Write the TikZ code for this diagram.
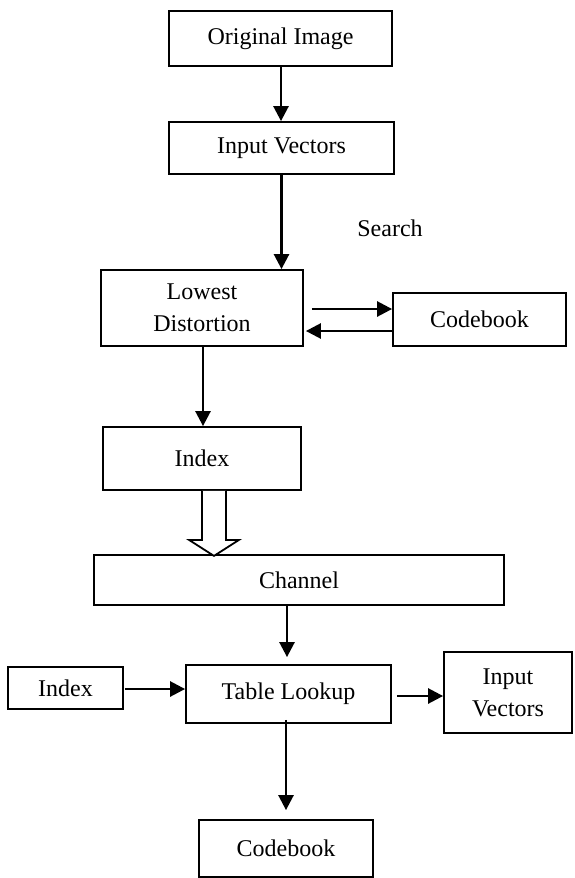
\documentclass[tikz,border=0pt]{standalone}
\usepackage{fontspec}
\setmainfont{Liberation Serif}
\usetikzlibrary{arrows.meta,calc}
\tikzset{
  box/.style={draw=black, line width=1.8pt, inner sep=0pt, align=center,
    font=\fontsize{24}{32}\selectfont},
  arr/.style={line width=2.6pt, -{Triangle[length=15pt,width=15pt]}},
  lbl/.style={inner sep=0pt, font=\fontsize{24}{32}\selectfont}
}
\begin{document}
\begin{tikzpicture}[x=1pt,y=-1pt]
\useasboundingbox (0,0) rectangle (574,878);
\node[box, minimum width=223pt, minimum height=55pt] (oi) at (280.5,38.5) {Original Image};
\node[box, minimum width=225pt, minimum height=52pt] (iv1) at (281.5,148) {Input Vectors};
\node[box, minimum width=202pt, minimum height=76pt] (ld) at (202,308) {Lowest\\Distortion};
\node[lbl] (search) at (390,228) {Search};
\node[box, minimum width=173pt, minimum height=53pt] (cb1) at (479.5,319.5) {Codebook};
\node[box, minimum width=198pt, minimum height=63pt] (ix1) at (202,458.5) {Index};
\node[box, minimum width=410pt, minimum height=50pt] (ch) at (299,580) {Channel};
\node[box, minimum width=205pt, minimum height=58pt] (tl) at (288.5,694) {Table Lookup};
\node[box, minimum width=115pt, minimum height=42pt] (ix2) at (65.5,688) {Index};
\node[box, minimum width=128pt, minimum height=81pt] (iv2) at (508,692.5) {Input\\Vectors};
\node[box, minimum width=174pt, minimum height=57pt] (cb2) at (286,848.5) {Codebook};

\draw[arr] ([shift={(0.5,0)}]oi.south) -- ([shift={(0.5,0)}]oi.south |- iv1.north);
\draw[arr] (iv1.south) -- (iv1.south |- ld.north);
\draw[arr] ([shift={(8,1)}]ld.east) -- ([shift={(0,-10.5)}]cb1.west);
\draw[arr] ([shift={(0,11.5)}]cb1.west) -- ([shift={(2,23)}]ld.east);
\draw[arr] ([shift={(1,0)}]ld.south) -- ([shift={(1,0)}]ix1.north);
\draw[line width=1.8pt, fill=white] (ix1.south) -- ++(0,49) -- ++(-13,0) -- ++(25,16) -- ++(25,-16) -- ++(-13,0) -- ++(0,-49);
\draw[arr] ([shift={(-1.5,0)}]tl.north |- ch.south) -- ([shift={(-1.5,-7)}]tl.north);
\draw[arr] ([shift={(1,1)}]ix2.east) -- ([shift={(0,-5)}]tl.west);
\draw[arr] ([shift={(5,2)}]tl.east) -- ([shift={(0,3.5)}]iv2.west);
\draw[arr] ([shift={(-2.5,-4)}]tl.south) -- ([shift={(0,-9)}]cb2.north);
\end{tikzpicture}
\end{document}
